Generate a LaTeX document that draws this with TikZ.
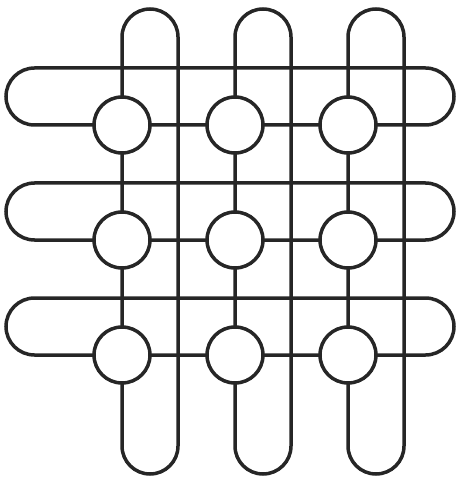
\documentclass[tikz,border=0pt]{standalone}
\usepackage{tikz}
\usetikzlibrary{positioning,calc}
\tikzset{
  px/.style={x=1pt, y=-1pt},
  w loop v/.style={draw=black!85, line width=3.5pt, rounded corners=28pt},
  w loop h/.style={draw=black!85, line width=3.5pt, rounded corners=28.5pt},
  w knot/.style={circle, draw=black!85, line width=3.5pt, fill=white, minimum size=56pt, inner sep=0pt},
}
\begin{document}
\begin{tikzpicture}[px]
\useasboundingbox (0,0) rectangle (460,478);
% ---- vertical loops ----
\foreach \i in {0,1,2} \draw[w loop v] (122+113*\i,9) rectangle ++(56,465);
% ---- horizontal loops ----
\foreach \j in {0,1,2} \draw[w loop h] (6,68+115*\j) rectangle ++(448,57);
% ---- knots ----
\foreach \i in {1,2,3} \foreach \j in {1,2,3}
  \node[w knot] (k\j\i) at (9+113*\i,10+115*\j) {};
\end{tikzpicture}
\end{document}
